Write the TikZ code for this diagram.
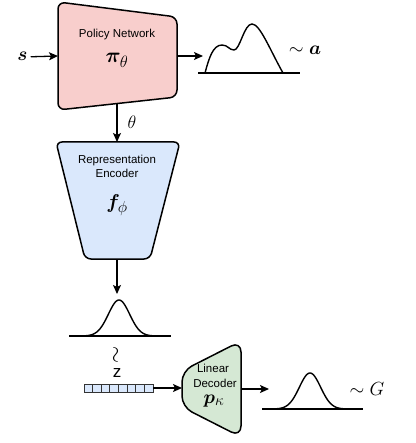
\RequirePackage{fix-cm}
\documentclass[tikz,border=0pt]{standalone}
\usepackage{bm}
\usepackage{fontspec}
\setsansfont{Liberation Sans}
\usetikzlibrary{arrows.meta}
\DeclareMathSizes{21}{21}{16.5}{12}
\DeclareMathSizes{20}{20}{16}{12}
\DeclareMathSizes{19}{19}{15.5}{11}
\DeclareMathSizes{18}{18}{14}{10}
\definecolor{pinkc}{HTML}{F8CECC}
\definecolor{bluec}{HTML}{DAE8FC}
\definecolor{greenc}{HTML}{D5E8D4}
\tikzset{
  block/.style={draw=black, line width=1.5pt, line join=round},
  arr/.style={line width=1.3pt, -{Stealth[length=9pt,width=8pt,inset=2pt]}},
  curve/.style={line width=1.4pt, line cap=round},
  base/.style={line width=1.4pt},
  lbl/.style={font=\sffamily\fontsize{11.5}{13}\selectfont, anchor=base, inner sep=0pt},
  mth/.style={font=\fontsize{19}{22}\selectfont, anchor=base, inner sep=0pt},
  cell/.style={draw=black!80, line width=0.9pt, fill=bluec},
}
\begin{document}
\begin{tikzpicture}[x=1pt,y=-1pt]
\useasboundingbox (0,0) rectangle (415,443);
% Policy network
\draw[block, fill=pinkc, rounded corners=7pt] (58,2) -- (177,17) -- (177,97) -- (58,110) -- cycle;
\coordinate (pin) at (58,56);
\coordinate (pout) at (177,56);
\coordinate (pbot) at (117,103.6);
\node[lbl] (ptitle) at (117,38) {Policy Network};
\node[mth, font=\fontsize{21}{24}\selectfont] (pmath) at (117,63) {$\bm{\pi}_{\theta}$};
% input s
\node[mth, anchor=base] (s) at (22.5,61) {$\bm{s}$};
\draw[arr] (s.east) ++(3,0) coordinate (sR) (sR) -- (pin);
% output distribution a
\coordinate (d1) at (203,56);
\draw[arr] (pout) -- (d1);
\draw[base] (198,73) coordinate (b1L) -- (300,73) coordinate (b1R);
\draw[curve] (205,73) .. controls (209,58) and (213,45) .. (222,45)
  .. controls (228,45) and (229,50) .. (234,50)
  .. controls (240,50) and (244,24) .. (252,24)
  .. controls (260,24) and (270,50) .. (283,73);
\node[mth] (sima) at (305,55) {$\sim \bm{a}$};
% theta arrow
\coordinate (etop) at (117,142);
\draw[arr] (pbot) -- (etop);
\node[mth, font=\fontsize{18}{20}\selectfont] (theta) at (132,129) {$\theta$};
% Encoder
\draw[block, fill=bluec, rounded corners=6pt] (56,142) -- (180,142) -- (150,259) -- (85,259) -- cycle;
\coordinate (ebot) at (117,259);
\node[lbl] (e1) at (117,163.5) {Representation};
\node[lbl] (e2) at (117,177.5) {Encoder};
\node[mth, font=\fontsize{20}{22}\selectfont] (emath) at (117,208) {$\bm{f}_{\phi}$};
% gaussian 1
\coordinate (g1top) at (117,294);
\draw[arr] (ebot) -- (g1top);
\draw[base] (69,336) -- (171,336);
\draw[curve] plot[domain=-34:34, samples=60, smooth] ({119+\x}, {336-36*exp(-(\x/15)^2)});
% tilde and z
\node[rotate=90, font=\fontsize{22}{24}\selectfont, inner sep=0pt] (tl) at (117,355) {$\sim$};
\node[lbl, font=\sffamily\fontsize{17}{19}\selectfont] (z) at (117,377) {z};
% vector
\foreach \i in {0,...,7} {
  \draw[cell] ({84+8.625*\i},384) rectangle ({84+8.625*(\i+1)},392);
}
\coordinate (vecR) at (153,388);
% Decoder
\draw[block, fill=greenc, rounded corners=11pt] (241,341) -- (241,437) -- (182,407) -- (182,371) -- cycle;
\coordinate (din) at (182,388);
\coordinate (dout) at (241,389);
\draw[arr] (vecR) -- (din);
\node[lbl] (d1t) at (213,372) {Linear};
\node[lbl] (d2t) at (215,387) {Decoder};
\node[mth] (dmath) at (214,403) {$\bm{p}_{\kappa}$};
% gaussian 2
\coordinate (g2) at (269,389);
\draw[arr] (dout) -- (g2);
\draw[base] (262,409) -- (363,409);
\draw[curve] plot[domain=-33:33, samples=60, smooth] ({310+\x}, {409-36*exp(-(\x/15)^2)});
\node[mth] (simG) at (367,395) {$\sim G$};
\end{tikzpicture}
\end{document}
